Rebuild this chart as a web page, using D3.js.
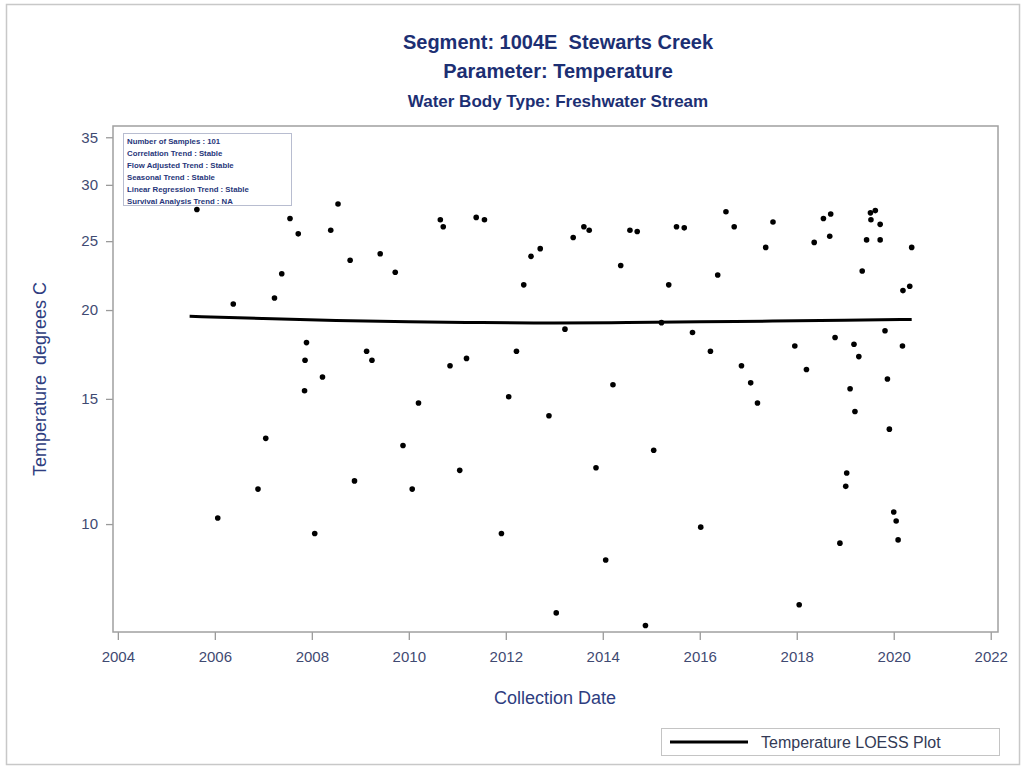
<!DOCTYPE html>
<html>
<head>
<meta charset="utf-8">
<script src="https://cdn.jsdelivr.net/npm/d3@7"></script>
<style>
  body { margin: 0; background: #fff; }
  svg { display: block; font-family: Arial, "Liberation Sans", sans-serif; }
  svg text { white-space: pre; }
</style>
</head>
<body>
<svg id="chart" width="1026" height="767"></svg>
<script>
const titleLines = ["Segment: 1004E  Stewarts Creek", "Parameter: Temperature", "Water Body Type: Freshwater Stream"];
const infoLines = ["Number of Samples : 101", "Correlation Trend : Stable", "Flow Adjusted Trend : Stable",
  "Seasonal Trend : Stable", "Linear Regression Trend : Stable", "Survival Analysis Trend : NA"];
const xLabel = "Collection Date";
const yLabel = "Temperature  degrees C";
const legendLabel = "Temperature LOESS Plot";
const xTicks = [2004, 2006, 2008, 2010, 2012, 2014, 2016, 2018, 2020, 2022];
const yTicks = [10, 15, 20, 25, 30, 35];

// sample dates (decimal years) and temperatures
const sampleYear = [
  2005.63, 2006.06, 2006.38, 2006.89, 2007.05, 2007.23, 2007.38, 2007.55, 2007.72, 2007.85,
  2007.86, 2007.89, 2008.06, 2008.22, 2008.39, 2008.54, 2008.79, 2008.88, 2009.13, 2009.24,
  2009.41, 2009.72, 2009.88, 2010.07, 2010.20, 2010.65, 2010.71, 2010.85, 2011.05, 2011.19,
  2011.39, 2011.56, 2011.91, 2012.06, 2012.22, 2012.37, 2012.52, 2012.71, 2012.89, 2013.04,
  2013.22, 2013.39, 2013.61, 2013.72, 2013.86, 2014.06, 2014.21, 2014.37, 2014.56, 2014.71,
  2014.88, 2015.05, 2015.21, 2015.36, 2015.52, 2015.68, 2015.85, 2016.02, 2016.22, 2016.37,
  2016.54, 2016.71, 2016.86, 2017.05, 2017.19, 2017.36, 2017.51, 2017.96, 2018.05, 2018.20,
  2018.36, 2018.55, 2018.68, 2018.70, 2018.79, 2018.89, 2019.01, 2019.03, 2019.10, 2019.18,
  2019.20, 2019.28, 2019.35, 2019.44, 2019.52, 2019.53, 2019.62, 2019.72, 2019.72, 2019.82,
  2019.87, 2019.91, 2020.00, 2020.05, 2020.09, 2020.18, 2020.19, 2020.33, 2020.37
];
const sampleTemp = [
  27.7, 10.2, 20.4, 11.2, 13.2, 20.8, 22.5, 26.9, 25.6, 15.4,
  17.0, 18.0, 9.7, 16.1, 25.9, 28.2, 23.5, 11.5, 17.5, 17.0,
  24.0, 22.6, 12.9, 11.2, 14.8, 26.8, 26.2, 16.7, 11.9, 17.1,
  27.0, 26.8, 9.7, 15.1, 17.5, 21.7, 23.8, 24.4, 14.2, 7.5,
  18.8, 25.3, 26.2, 25.9, 12.0, 8.9, 15.7, 23.1, 25.9, 25.8,
  7.2, 12.7, 19.2, 21.7, 26.2, 26.1, 18.6, 9.9, 17.5, 22.4,
  27.5, 26.2, 16.7, 15.8, 14.8, 24.5, 26.6, 17.8, 7.7, 16.5,
  24.9, 26.9, 25.4, 27.3, 18.3, 9.4, 11.3, 11.8, 15.5, 17.9,
  14.4, 17.2, 22.7, 25.1, 27.4, 26.8, 27.6, 26.4, 25.1, 18.7,
  16.0, 13.6, 10.4, 10.1, 9.5, 17.8, 21.3, 21.6, 24.5
];

// LOESS fit
const loessYear = [2005.48, 2007.0, 2008.5, 2010.0, 2011.5, 2013.0, 2014.5, 2016.0, 2017.5, 2019.0, 2020.37];
const loessTemp = [19.6, 19.45, 19.33, 19.25, 19.2, 19.17, 19.2, 19.25, 19.3, 19.35, 19.4];

const svg = d3.select("#chart");
const plot = { left: 113, right: 998, top: 126, bottom: 632 };

const titleColor = "#1c2f73";
const textColor = "#3f4a72";

// outer border
svg.append("rect").attr("x", 6.5).attr("y", 4.5).attr("width", 1013).attr("height", 760)
  .attr("fill", "none").attr("stroke", "#c8c8c8").attr("stroke-width", 1.5);

const x = d3.scaleLinear().domain([2003.9, 2022.15]).range([plot.left, plot.right]);
const y = d3.scaleLog().domain([7.05, 36.3]).range([plot.bottom, plot.top]);

// titles
const titleY = [49, 78, 107];
const titleSize = [20, 20, 17];
titleLines.forEach((t, i) => {
  svg.append("text").attr("x", 558).attr("y", titleY[i]).attr("text-anchor", "middle")
    .attr("font-size", titleSize[i]).attr("font-weight", "bold").attr("fill", titleColor)
    .attr("xml:space", "preserve").text(t);
});

// axes
const xAxis = d3.axisBottom(x).tickValues(xTicks).tickFormat(d3.format("d")).tickSize(8).tickSizeOuter(0);
const gx = svg.append("g").attr("transform", `translate(0,${plot.bottom})`).call(xAxis);
gx.select(".domain").remove();
gx.selectAll("line").attr("stroke", "#9a9a9a").attr("stroke-width", 1.3);
gx.selectAll("text").attr("font-size", 15).attr("fill", textColor).attr("dy", "1.25em")
  .attr("font-family", "Arial, 'Liberation Sans', sans-serif");

const yAxis = d3.axisLeft(y).tickValues(yTicks).tickFormat(d3.format("d")).tickSize(7).tickSizeOuter(0);
const gy = svg.append("g").attr("transform", `translate(${plot.left},0)`).call(yAxis);
gy.select(".domain").remove();
gy.selectAll("line").attr("stroke", "#9a9a9a").attr("stroke-width", 1.3);
gy.selectAll("text").attr("font-size", 15).attr("fill", textColor).attr("x", -15)
  .attr("font-family", "Arial, 'Liberation Sans', sans-serif");

// plot frame
svg.append("rect").attr("x", plot.left).attr("y", plot.top)
  .attr("width", plot.right - plot.left).attr("height", plot.bottom - plot.top)
  .attr("fill", "none").attr("stroke", "#a0a0a0").attr("stroke-width", 1.5);

// axis labels
svg.append("text").attr("x", 555).attr("y", 704).attr("text-anchor", "middle")
  .attr("font-size", 18).attr("fill", "#2e3d80").text(xLabel);
svg.append("text").attr("transform", `translate(46,${(plot.top + plot.bottom) / 2}) rotate(-90)`)
  .attr("text-anchor", "middle").attr("font-size", 18).attr("fill", "#2e3d80")
  .attr("xml:space", "preserve").text(yLabel);

// points
const samples = sampleYear.map((d, i) => ({ yr: d, t: sampleTemp[i] }));
svg.append("g").selectAll("circle").data(samples).join("circle")
  .attr("cx", d => x(d.yr)).attr("cy", d => y(d.t)).attr("r", 2.8).attr("fill", "#000");

// loess line
const loess = loessYear.map((d, i) => ({ yr: d, t: loessTemp[i] }));
svg.append("path").datum(loess)
  .attr("d", d3.line().x(d => x(d.yr)).y(d => y(d.t)).curve(d3.curveBasis))
  .attr("fill", "none").attr("stroke", "#000").attr("stroke-width", 3);

// info box
const info = svg.append("g");
info.append("rect").attr("x", 123.5).attr("y", 133.5).attr("width", 168).attr("height", 72)
  .attr("fill", "#fff").attr("fill-opacity", 0.6).attr("stroke", "#b8bdd0").attr("stroke-width", 1);
infoLines.forEach((t, i) => {
  info.append("text").attr("x", 127).attr("y", 144 + i * 11.9).attr("font-size", 7.8)
    .attr("font-weight", "bold").attr("fill", "#27367a").text(t);
});

// legend
const lg = svg.append("g");
lg.append("rect").attr("x", 661.5).attr("y", 728.5).attr("width", 338).attr("height", 27)
  .attr("fill", "#fff").attr("stroke", "#c4c4c4").attr("stroke-width", 1);
lg.append("line").attr("x1", 670).attr("x2", 748).attr("y1", 742).attr("y2", 742)
  .attr("stroke", "#000").attr("stroke-width", 3);
lg.append("text").attr("x", 761).attr("y", 748).attr("font-size", 16).attr("fill", "#333a55").text(legendLabel);
</script>
</body>
</html>
